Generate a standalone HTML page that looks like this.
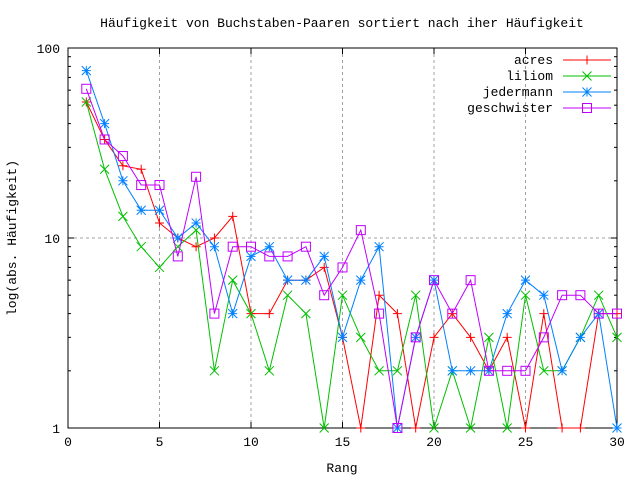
<!DOCTYPE html>
<html><head><meta charset="utf-8"><style>
body{margin:0;background:#fff}
svg{display:block;font-family:"Liberation Mono",monospace;font-size:13px}
</style></head><body>
<svg id="chart" width="640" height="480" xmlns="http://www.w3.org/2000/svg">
<rect x="0" y="0" width="640" height="480" fill="#fff"/>
<g id="grid"></g>
<g id="axes"></g>
<g id="series"></g>
<g id="legend"></g>
<text x="342" y="27" text-anchor="middle">Häufigkeit von Buchstaben-Paaren sortiert nach iher Häufigkeit</text>
<text x="342" y="472" text-anchor="middle">Rang</text>
<text x="0" y="0" transform="translate(16,238) rotate(-90)" text-anchor="middle">log(abs. Häufigkeit)</text>
</svg>
<script>
const ranks = [1,2,3,4,5,6,7,8,9,10,11,12,13,14,15,16,17,18,19,20,21,22,23,24,25,26,27,28,29,30];
const acres = [52,33,24,23,12,10,9,10,13,4,4,6,6,7,3,1,5,4,1,3,4,3,2,3,1,4,1,1,4,4];
const liliom = [52,23,13,9,7,9,11,2,6,4,2,5,4,1,5,3,2,2,5,1,2,1,3,1,5,2,2,3,5,3];
const jedermann = [76,40,20,14,14,10,12,9,4,8,9,6,6,8,3,6,9,1,3,6,2,2,2,4,6,5,2,3,4,1];
const geschwister = [61,33,27,19,19,8,21,4,9,9,8,8,9,5,7,11,4,1,3,6,4,6,2,2,2,3,5,5,4,4];
const xTicks = [0,5,10,15,20,25,30];
const yTicks = [1,10,100];
const seriesNames = ["acres","liliom","jedermann","geschwister"];

const NS="http://www.w3.org/2000/svg";
const L=68,R=617,T=48,B=428;
const xs=v=>L+(R-L)*v/30;
const ys=v=>B-(B-T)*Math.log10(v)/2;
function mk(tag,attrs,parent){const e=document.createElementNS(NS,tag);for(const k in attrs)e.setAttribute(k,attrs[k]);parent.appendChild(e);return e;}
const grid=document.getElementById('grid'),axes=document.getElementById('axes'),ser=document.getElementById('series'),leg=document.getElementById('legend');

xTicks.forEach(t=>{
  const x=xs(t);
  if(t>0&&t<30){const g=mk('line',{x1:x,y1:T,x2:x,y2:B,stroke:'#a0a0a0','stroke-dasharray':'3,3'},grid);
  
  }
  mk('line',{x1:x,y1:B,x2:x,y2:B-6,stroke:'#000'},axes);
  mk('line',{x1:x,y1:T,x2:x,y2:T+6,stroke:'#000'},axes);
  const tx=mk('text',{x:x,y:B+18,'text-anchor':'middle'},axes);tx.textContent=t;
  
  
});
yTicks.forEach((t,i)=>{
  const y=ys(t);
  if(t>1&&t<100){const g=mk('line',{x1:L,y1:y,x2:R,y2:y,stroke:'#a0a0a0','stroke-dasharray':'3,3'},grid);
  
  }
  mk('line',{x1:L,y1:y,x2:L+6,y2:y,stroke:'#000'},axes);
  mk('line',{x1:R,y1:y,x2:R-6,y2:y,stroke:'#000'},axes);
  const tx=mk('text',{x:L-8,y:y+5,'text-anchor':'end'},axes);tx.textContent=t;
  
  
  if(i<yTicks.length-1){for(let m=2;m<10;m++){const yy=ys(t*m);
    mk('line',{x1:L,y1:yy,x2:L+3,y2:yy,stroke:'#000'},axes);
    mk('line',{x1:R,y1:yy,x2:R-3,y2:yy,stroke:'#000'},axes);}}
});
const frame=mk('rect',{x:L,y:T,width:R-L,height:B-T,fill:'none',stroke:'#000'},axes);



function marker(type,x,y,c,p){
  const s=4.5;
  if(type===0){mk('path',{d:`M${x-s} ${y}H${x+s}M${x} ${y-s}V${y+s}`,stroke:c,fill:'none'},p);}
  else if(type===1){mk('path',{d:`M${x-s} ${y-s}L${x+s} ${y+s}M${x-s} ${y+s}L${x+s} ${y-s}`,stroke:c,fill:'none'},p);}
  else if(type===2){mk('path',{d:`M${x-s} ${y}H${x+s}M${x} ${y-s}V${y+s}M${x-s} ${y-s}L${x+s} ${y+s}M${x-s} ${y+s}L${x+s} ${y-s}`,stroke:c,fill:'none'},p);}
  else {mk('rect',{x:x-s,y:y-s,width:2*s,height:2*s,stroke:c,fill:'none'},p);}
}
const data=[acres,liliom,jedermann,geschwister];
const colors=['#ff0000','#00c000','#0080ff','#c000ff'];
data.forEach((arr,si)=>{
  const g=mk('g',{},ser);
  
  
  const pts=arr.map((v,i)=>xs(ranks[i]).toFixed(1)+','+ys(v).toFixed(1)).join(' ');
  mk('polyline',{points:pts,fill:'none',stroke:colors[si],'stroke-width':1},g);
  arr.forEach((v,i)=>marker(si,xs(ranks[i]),ys(v),colors[si],g));
  const ly=60+si*16;
  const lg=mk('g',{},leg);
  
  
  const lt=mk('text',{x:553,y:ly+4,'text-anchor':'end'},lg);lt.textContent=seriesNames[si];
  mk('line',{x1:563,y1:ly,x2:611,y2:ly,stroke:colors[si]},lg);
  marker(si,587,ly,colors[si],lg);
});
</script>
</body></html>
